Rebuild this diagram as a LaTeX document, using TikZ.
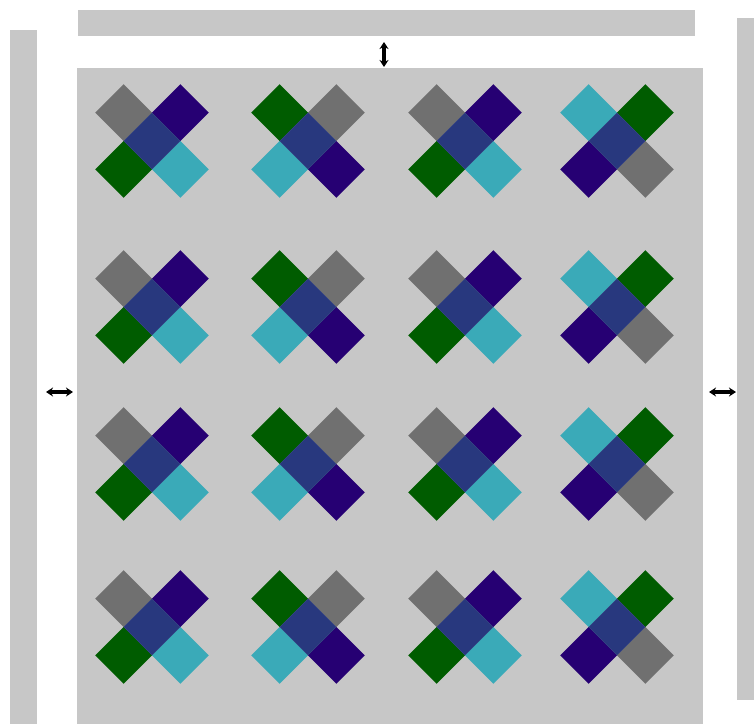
\documentclass[tikz,border=0pt]{standalone}
\usetikzlibrary{arrows.meta}
\definecolor{panelgray}{RGB}{199,199,199}
\definecolor{armgray}{RGB}{112,112,112}
\definecolor{armindigo}{RGB}{38,0,115}
\definecolor{armgreen}{RGB}{0,92,0}
\definecolor{armcyan}{RGB}{58,170,184}
\definecolor{armcenter}{RGB}{40,56,126}
\tikzset{
  panel/.style={fill=panelgray, draw=none},
  dblarrow/.style={line width=3.6pt, {Stealth[length=7pt,width=9pt]}-{Stealth[length=7pt,width=9pt]}},
}
\newcommand{\diamondat}[3]{\fill[#3] ({#1-28.4},{#2}) -- ({#1},{#2-28.4}) -- ({#1+28.4},{#2}) -- ({#1},{#2+28.4}) -- cycle;}
\newcommand{\drawcross}[6]{%
  \diamondat{#1-28.4}{#2-28.4}{#3}
  \diamondat{#1+28.4}{#2-28.4}{#4}
  \diamondat{#1-28.4}{#2+28.4}{#5}
  \diamondat{#1+28.4}{#2+28.4}{#6}
  \diamondat{#1}{#2}{armcenter}}
\begin{document}
\begin{tikzpicture}[x=1pt,y=-1pt]
\useasboundingbox (0,0) rectangle (754,724);
\fill[white] (0,0) rectangle (754,724);
% panels
\fill[panel] (78,10) rectangle (695,36);
\fill[panel] (10,30) rectangle (37,724);
\fill[panel] (737,18) rectangle (754,700);
\fill[panel] (77,68) rectangle (703,724);
% crosses
\foreach \cy in {141,307,464,627}{
  \drawcross{152}{\cy}{armgray}{armindigo}{armgreen}{armcyan}
  \drawcross{308}{\cy}{armgreen}{armgray}{armcyan}{armindigo}
  \drawcross{465}{\cy}{armgray}{armindigo}{armgreen}{armcyan}
  \drawcross{617}{\cy}{armcyan}{armgreen}{armindigo}{armgray}
}
% arrows
\coordinate (topA) at (384,42);
\coordinate (topB) at (384,67);
\coordinate (leftA) at (46,392);
\coordinate (leftB) at (73,392);
\coordinate (rightA) at (709,392);
\coordinate (rightB) at (736,392);
\draw[dblarrow] (topA) -- (topB);
\draw[dblarrow] (leftA) -- (leftB);
\draw[dblarrow] (rightA) -- (rightB);
\end{tikzpicture}
\end{document}
